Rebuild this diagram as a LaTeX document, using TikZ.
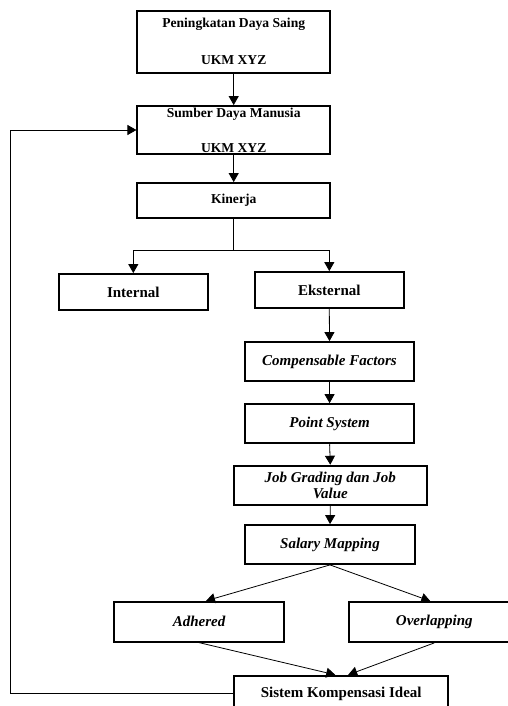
\documentclass[tikz,border=0pt]{standalone}
\usepackage{fontspec}
\setmainfont{Liberation Serif}
\usetikzlibrary{arrows.meta,calc}
\begin{document}
\begin{tikzpicture}[x=1pt,y=1pt,
  box/.style={draw,line width=1.8pt,rectangle,inner sep=0pt,align=center,
    font=\fontsize{15}{15.5}\selectfont\bfseries},
  topbox/.style={box,font=\fontsize{13.6}{16}\selectfont\bfseries},
  ibox/.style={box,font=\fontsize{15}{15.5}\selectfont\bfseries\itshape},
  conn/.style={line width=0.8pt,-{Triangle[width=10pt,length=9pt]}},
  plain/.style={line width=0.8pt}]
\useasboundingbox (0,0) rectangle (508,-706);
\node[topbox,minimum width=192.7pt,minimum height=62pt] (b1) at (233.7,-41.7)
  {Peningkatan Daya Saing\\[21pt]UKM XYZ};
\node[topbox,minimum width=192.7pt,minimum height=48pt] (b2) at (233.7,-130)
  {Sumber Daya Manusia\\[19pt]UKM XYZ};
\node[topbox,minimum width=192.7pt,minimum height=35pt] (kin) at (233.7,-200.5) {Kinerja};
\node[box,minimum width=149.3pt,minimum height=36pt] (int) at (133.3,-292) {Internal};
\node[box,minimum width=149.3pt,minimum height=36pt] (eks) at (329.3,-290) {Eksternal};
\node[ibox,minimum width=169pt,minimum height=39pt] (comp) at (329.5,-361.5) {Compensable Factors};
\node[ibox,minimum width=169.3pt,minimum height=39.3pt] (pts) at (329.6,-423.7) {Point System};
\node[ibox,minimum width=192.7pt,minimum height=39.3pt] (job) at (330.3,-485.3) {Job Grading dan Job\\Value};
\node[ibox,minimum width=170pt,minimum height=39pt] (sal) at (330,-544.5) {Salary Mapping};
\node[ibox,minimum width=170pt,minimum height=40pt] (adh) at (199,-621.7) {Adhered};
\node[ibox,minimum width=170pt,minimum height=40pt] (ovl) at (434.3,-622) {Overlapping};
\node[box,minimum width=214.3pt,minimum height=36pt] (sis) at (341.2,-693.7) {Sistem Kompensasi Ideal};
\coordinate (split) at ($(kin.south)+(0,-31)$);
\draw[conn] (b1.south) -- (b2.north);
\draw[conn] (b2.south) -- (kin.north);
\draw[plain] (kin.south) -- (split);
\draw[conn] (split) -| (int.north);
\draw[conn] (split) -| (eks.north);
\draw[conn] (eks.south) -- (comp.north);
\draw[conn] (comp.south) -- (pts.north);
\draw[conn] (pts.south) -- (job.north);
\draw[conn] (job.south) -- (sal.north);
\draw[conn] (sal.south) -- ([xshift=7pt]adh.north);
\draw[conn] (sal.south) -- ([xshift=-4pt]ovl.north);
\draw[conn] (adh.south) -- ([xshift=-6pt]sis.north);
\draw[conn] (ovl.south) -- ([xshift=7pt]sis.north);
\draw[conn] (sis.west) -- ++(-223,0) |- (b2.west);
\end{tikzpicture}
\end{document}
